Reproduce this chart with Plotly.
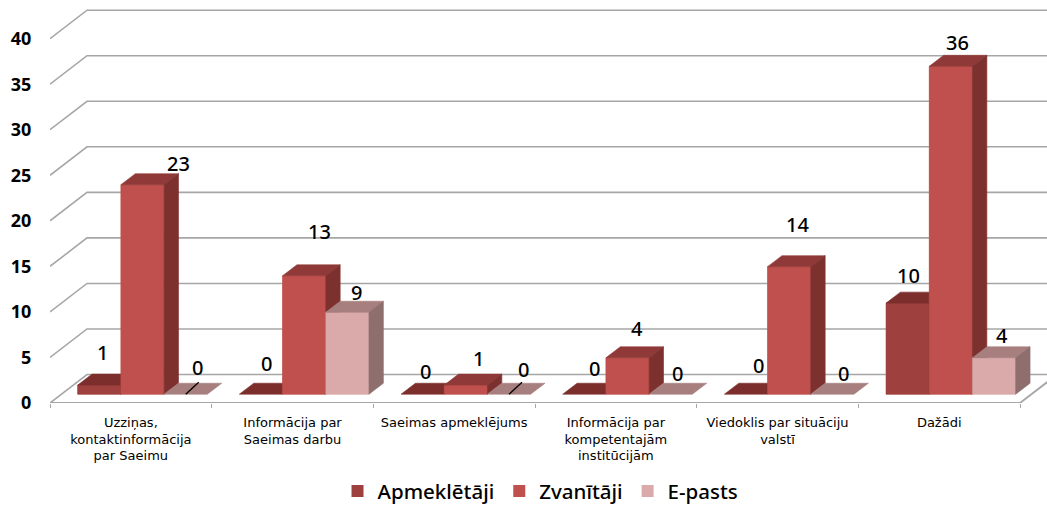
import plotly.graph_objects as go

categories = ["Uzziņas,<br>kontaktinformācija<br>par Saeimu", "Informācija par<br>Saeimas darbu",
              "Saeimas apmeklējums", "Informācija par<br>kompetentajām<br>institūcijām",
              "Viedoklis par situāciju<br>valstī", "Dažādi"]
apmekletaji = [1, 0, 0, 0, 0, 10]
zvanitaji = [23, 13, 1, 4, 14, 36]
epasts = [0, 9, 0, 0, 0, 4]
y_ticks = [0, 5, 10, 15, 20, 25, 30, 35, 40]

series = [("Apmeklētāji", apmekletaji, "#9E413E", "#7B2E2C", "#7B2E2C"),
          ("Zvanītāji", zvanitaji, "#C0504D", "#8F3A38", "#7D312F"),
          ("E-pasts", epasts, "#D9AAA9", "#A67F7E", "#8E6F6E")]

# label offsets (px) from the front-top centre of each bar, per series then group
label_shift = [
    [(3, 33), (6, 31), (3, 23), (10, 26), (13, 29), (1, 28)],
    [(36, 21), (15, 44), (13, 27), (9, 29), (8, 42), (7, 24)],
    [(12, 27), (9, 20), (14, 25), (7, 21), (11, 21), (8, 22)],
]
leaders = [(2, 0), (2, 2)]

PX_X = 161.67
PX_Y = 9.12
FLOOR = 0.965
W = 43.2 / PX_X
LEFT = 27.7 / PX_X
DX = 14.4 / PX_X
DY = 11 / PX_Y
WALL_X = 37 / PX_X
WALL_Y = 28.5 / PX_Y
X_MAX = 997 / PX_X
Y_MAX = 403.5 / PX_Y
N = len(categories)

fig = go.Figure()


def poly(xs, ys, color):
    fig.add_trace(go.Scatter(x=xs, y=ys, mode="lines", fill="toself", fillcolor=color,
                             line=dict(width=0.6, color=color), hoverinfo="skip", showlegend=False))


for i, (name, vals, front, top, side) in enumerate(series):
    fig.add_trace(go.Bar(x=[g + LEFT + W * (i + .5) for g in range(N)], y=vals, base=FLOOR, width=W,
                         name=name, marker=dict(color=front, line=dict(width=0))))

for t in y_ticks:
    fig.add_trace(go.Scatter(x=[0, WALL_X, X_MAX], y=[t, t + WALL_Y, t + WALL_Y], mode="lines",
                             line=dict(color="#A6A6A6", width=1.6), hoverinfo="skip", showlegend=False))
fig.add_trace(go.Scatter(x=[0, N, N + WALL_X], y=[0, 0, WALL_Y], mode="lines", cliponaxis=False,
                         line=dict(color="#A6A6A6", width=1.8), hoverinfo="skip", showlegend=False))

annotations = []
for g in range(N):
    for i, (name, vals, front, top, side) in enumerate(series):
        v = vals[g]
        L = g + LEFT + W * i
        R = L + W
        T = FLOOR + v
        if v > 0:
            poly([L, R, R, L, L], [FLOOR, FLOOR, T, T, FLOOR], front)
        poly([L, R, R + DX, L + DX, L], [T, T, T + DY, T + DY, T], top)
        if v > 0:
            poly([R, R + DX, R + DX, R, R], [FLOOR, FLOOR + DY, T + DY, T, FLOOR], side)
        sx, sy = label_shift[i][g]
        annotations.append(dict(x=L + W / 2, y=T, text=str(v), showarrow=False, xshift=sx, yshift=sy,
                                font=dict(family="Noto Sans", size=20, color="#000000", weight=500)))

for i, g in leaders:
    x0 = g + LEFT + W * (i + .5)
    fig.add_trace(go.Scatter(x=[x0, x0 + 13 / PX_X], y=[FLOOR, FLOOR + 12 / PX_Y], mode="lines",
                             line=dict(color="#000000", width=1.3), hoverinfo="skip", showlegend=False))

fig.update_layout(
    width=1047, height=506, margin=dict(l=50, r=0, t=0, b=102.5, autoexpand=False),
    paper_bgcolor="#FFFFFF", plot_bgcolor="#FFFFFF", barmode="overlay",
    annotations=annotations,
    legend=dict(orientation="h", x=0.492, xanchor="center", y=-0.219, yanchor="middle",
                font=dict(family="Noto Sans", size=20.5, color="#000000", weight=500), traceorder="normal"),
    xaxis=dict(range=[0, X_MAX], tickmode="array", tickvals=[g + .5 for g in range(N)], ticktext=categories,
               ticks="outside", ticklen=7, tickcolor="rgba(0,0,0,0)", showgrid=False, zeroline=False,
               automargin=False, tickangle=0, tickfont=dict(family="DejaVu Sans", size=13, color="#000000"),
               minor=dict(tickmode="array", tickvals=list(range(N + 1)), ticks="outside", ticklen=4,
                          tickcolor="#A6A6A6", showgrid=False)),
    yaxis=dict(range=[0, Y_MAX], tickmode="array", tickvals=y_ticks, ticks="outside", ticklen=14,
               automargin=False, tickcolor="rgba(0,0,0,0)", showgrid=False, zeroline=False, showline=False,
               tickfont=dict(family="Noto Sans", size=18, color="#000000", weight="bold")),
)

fig.write_html("out.html", config=dict(displayModeBar=False),
               post_script="document.body.style.margin='0';document.body.style.overflow='hidden';")
